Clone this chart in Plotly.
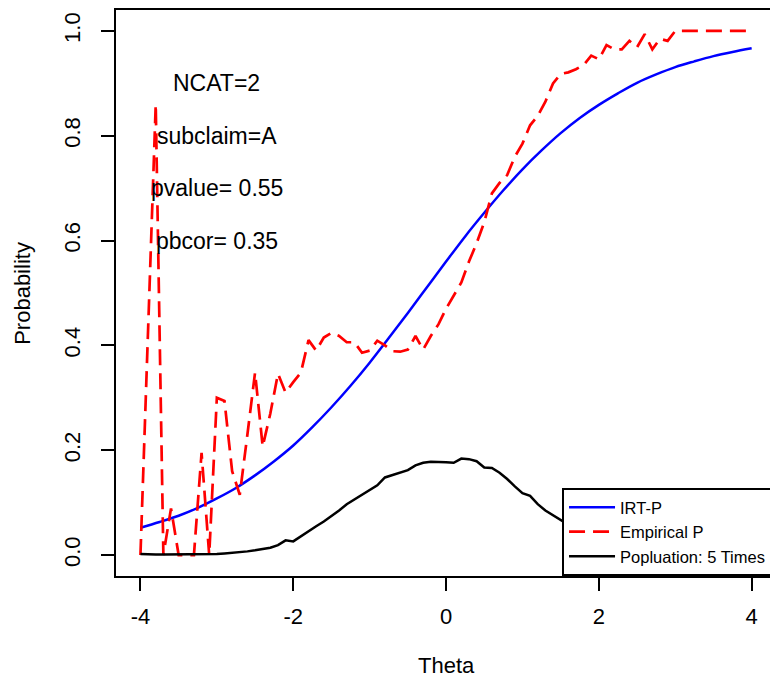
import plotly.graph_objects as go

# ---- data ----
theta = [round(-4 + 0.1 * i, 1) for i in range(81)]

empirical_p = [
    0.0, 0.43, 0.86, 0.0, 0.089, 0.0, 0.0, 0.0, 0.195, 0.0,
    0.30, 0.294, 0.16, 0.115, 0.23, 0.348, 0.207, 0.27, 0.346, 0.31,
    0.33, 0.348, 0.41, 0.39, 0.415, 0.424, 0.418, 0.406, 0.406, 0.386,
    0.39, 0.409, 0.40, 0.389, 0.388, 0.392, 0.418, 0.392, 0.418, 0.44,
    0.47, 0.495, 0.52, 0.56, 0.595, 0.635, 0.69, 0.71, 0.725, 0.76,
    0.785, 0.82, 0.838, 0.865, 0.90, 0.918, 0.921, 0.927, 0.935, 0.953,
    0.946, 0.973, 0.965, 0.965, 0.981, 0.969, 0.994, 0.965, 0.985, 0.981,
    1.0, 1.0, 1.0, 1.0, 1.0, 1.0, 1.0, 1.0, 1.0, 1.0, 1.0,
]

population = [
    0.002, 0.001, 0.001, 0.001, 0.001, 0.001, 0.001, 0.001, 0.001, 0.001,
    0.002, 0.003, 0.004, 0.005, 0.007, 0.009, 0.011, 0.014, 0.019, 0.028,
    0.026, 0.036, 0.045, 0.055, 0.064, 0.074, 0.085, 0.097, 0.106, 0.116,
    0.124, 0.133, 0.148, 0.153, 0.157, 0.162, 0.171, 0.176, 0.178, 0.178,
    0.177, 0.176, 0.184, 0.183, 0.179, 0.167, 0.166, 0.157, 0.145, 0.131,
    0.118, 0.113, 0.097, 0.085, 0.076, 0.066, 0.057, 0.049, 0.041, 0.034,
    0.028, 0.023, 0.018, 0.014, 0.011, 0.009, 0.007, 0.005, 0.004, 0.003,
    0.002, 0.002, 0.001, 0.001, 0.001, 0.001, 0.001, 0.001, 0.001, 0.001, 0.001,
]

irt_theta = [-4.0, -3.75, -3.5, -3.25, -3.0, -2.75, -2.5, -2.25, -2.0, -1.75,
             -1.5, -1.25, -1.0, -0.75, -0.5, -0.25, 0.0, 0.25, 0.5, 0.75,
             1.0, 1.25, 1.5, 1.75, 2.0, 2.25, 2.5, 2.75, 3.0, 3.25,
             3.5, 3.75, 4.0]
irt_p = [0.052, 0.063, 0.075, 0.090, 0.108, 0.128, 0.152, 0.179, 0.209, 0.244,
         0.282, 0.323, 0.367, 0.414, 0.462, 0.511, 0.560, 0.608, 0.653, 0.696,
         0.736, 0.772, 0.805, 0.834, 0.859, 0.881, 0.901, 0.917, 0.931, 0.942,
         0.952, 0.960, 0.967]

x_ticks = [-4, -2, 0, 2, 4]
x_ticktext = ["-4", "-2", "0", "2", "4"]
y_ticks = [0.0, 0.2, 0.4, 0.6, 0.8, 1.0]
y_ticktext = ["0.0", "0.2", "0.4", "0.6", "0.8", "1.0"]

notes = ["NCAT=2", "subclaim=A", "pvalue= 0.55", "pbcor= 0.35"]
notes_y = [0.9, 0.8, 0.7, 0.6]

FONT = "Liberation Sans, Arial, sans-serif"

fig = go.Figure()
fig.add_trace(go.Scatter(x=irt_theta, y=irt_p, mode="lines", name="IRT-P",
                         line=dict(color="blue", width=2.5, shape="spline")))
fig.add_trace(go.Scatter(x=theta, y=empirical_p, mode="lines", name="Empirical P",
                         line=dict(color="red", width=2.7, dash="16px,8px")))
fig.add_trace(go.Scatter(x=theta, y=population, mode="lines", name="Popluation: 5 Times",
                         line=dict(color="black", width=2.5)))

for txt, yy in zip(notes, notes_y):
    fig.add_annotation(x=-3, y=yy, xref="x", yref="y", text=txt, showarrow=False,
                       font=dict(family=FONT, size=23, color="black"),
                       xanchor="center", yanchor="middle")

fig.add_annotation(x=0, y=-0.159, xref="x", yref="paper", text="Theta", showarrow=False,
                   font=dict(family=FONT, size=22, color="black"), yanchor="middle")
fig.add_annotation(x=-0.144, y=0.5, xref="paper", yref="y", text="Probability",
                   showarrow=False, textangle=-90,
                   font=dict(family=FONT, size=22, color="black"), xanchor="center")

fig.update_layout(
    width=770, height=683,
    margin=dict(l=116, r=0, t=10, b=107, autoexpand=False),
    paper_bgcolor="white", plot_bgcolor="white",
    font=dict(family=FONT, size=22, color="black"),
    showlegend=True,
    legend=dict(x=0.682, y=0, xanchor="left", yanchor="bottom",
                bordercolor="black", borderwidth=2, bgcolor="white",
                font=dict(family=FONT, size=16.5, color="black"),
                tracegroupgap=0, itemwidth=46),
    xaxis=dict(range=[-4.32, 4.24], tickmode="array", tickvals=x_ticks, ticktext=x_ticktext,
               ticks="outside", ticklen=13, tickwidth=2, tickcolor="black",
               showline=True, linewidth=2, linecolor="black", mirror=True,
               showgrid=False, zeroline=False, ticklabelstandoff=7),
    yaxis=dict(range=[-0.04, 1.04], tickmode="array", tickvals=y_ticks, ticktext=y_ticktext,
               tickangle=-90, ticks="outside", ticklen=13, tickwidth=2, tickcolor="black",
               showline=True, linewidth=2, linecolor="black", mirror=False,
               showgrid=False, zeroline=False, ticklabelstandoff=12),
)

fig.write_html("out.html")
